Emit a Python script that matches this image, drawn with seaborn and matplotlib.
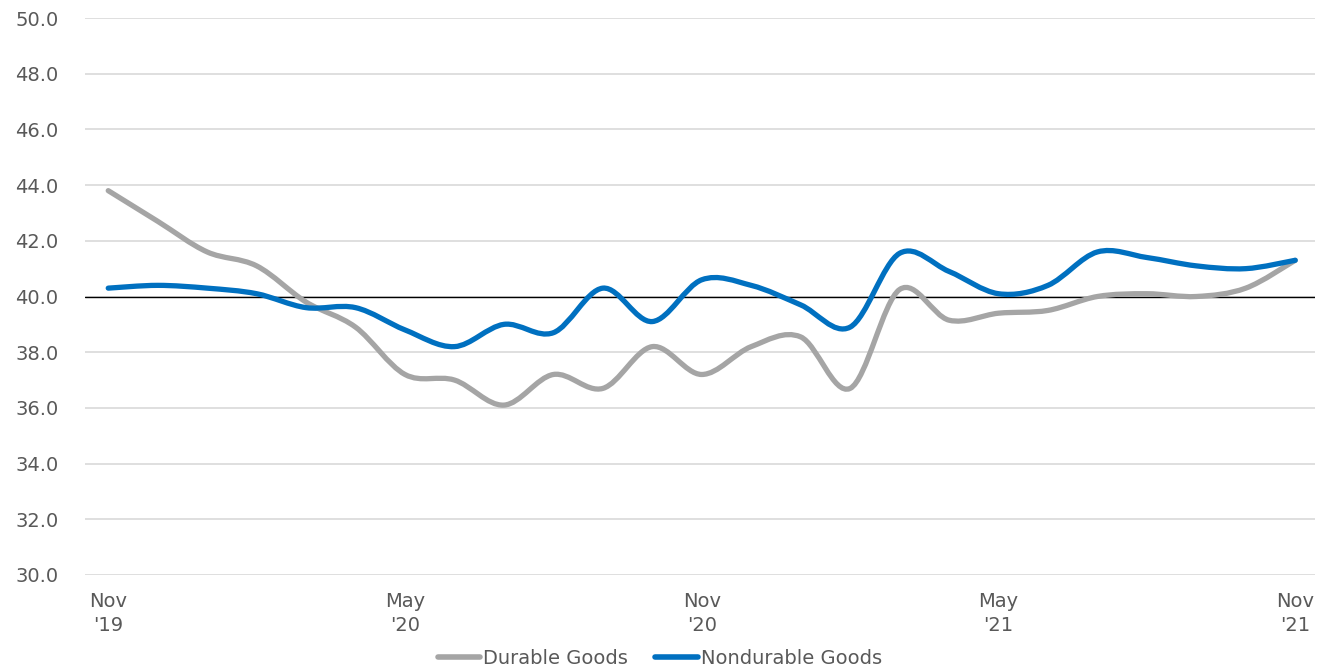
import numpy as np
import pandas as pd
import seaborn as sns
import matplotlib.pyplot as plt
from matplotlib.path import Path
from matplotlib.patches import PathPatch
from matplotlib.lines import Line2D

months = pd.date_range("2019-11-01", "2021-11-01", freq="MS")
durable = [43.8, 42.7, 41.6, 41.1, 39.8, 38.9, 37.2, 37.0, 36.1, 37.2, 36.7, 38.2, 37.2,
           38.2, 38.55, 36.7, 40.25, 39.15, 39.4, 39.5, 40.0, 40.1, 40.0, 40.3, 41.3]
nondurable = [40.3, 40.4, 40.3, 40.1, 39.6, 39.6, 38.8, 38.2, 39.0, 38.7, 40.3, 39.1, 40.6,
              40.4, 39.7, 38.9, 41.55, 40.9, 40.1, 40.4, 41.6, 41.4, 41.1, 41.0, 41.3]
tick_pos = [0, 6, 12, 18, 24]
tick_labels = ["Nov\n'19", "May\n'20", "Nov\n'20", "May\n'21", "Nov\n'21"]
series_names = ["Durable Goods", "Nondurable Goods"]
colors = ["#a5a5a5", "#0070c0"]

df = pd.DataFrame({"idx": np.arange(len(months)), "Durable Goods": durable,
                   "Nondurable Goods": nondurable})
long = df.melt(id_vars="idx", var_name="series", value_name="value")

sns.set_style("white")
plt.rcParams['font.family'] = ['DejaVu Sans']

fig = plt.figure(figsize=(13.2, 6.66), dpi=100)
ax = fig.add_axes([85 / 1320, 1 - 575 / 666, 1230 / 1320, 557 / 666])

sns.lineplot(data=long, x="idx", y="value", hue="series", palette=colors,
             hue_order=series_names, ax=ax, legend=False, linewidth=3.8)


def smooth_path(xs, ys):
    # excel-style smoothed line: cubic bezier through each point
    pts = np.column_stack([xs, ys])
    verts = [pts[0]]
    codes = [Path.MOVETO]
    n = len(pts)
    for i in range(n - 1):
        p0 = pts[max(i - 1, 0)]
        p1 = pts[i]
        p2 = pts[i + 1]
        p3 = pts[min(i + 2, n - 1)]
        c1 = p1 + (p2 - p0) / 6
        c2 = p2 - (p3 - p1) / 6
        verts += [c1, c2, p2]
        codes += [Path.CURVE4] * 3
    return Path(verts, codes)


# replace the straight segments with smoothed curves
for line, col in zip(ax.get_lines(), colors):
    xs, ys = line.get_data()
    line.set_visible(False)
    patch = PathPatch(smooth_path(np.asarray(xs, float), np.asarray(ys, float)),
                      facecolor="none", edgecolor=col, lw=3.8, capstyle="round",
                      joinstyle="round", zorder=3)
    ax.add_patch(patch)

ax.set_ylim(30, 50)
ax.set_xlim(-0.47, 24.4)
ax.set_yticks(np.arange(30, 51, 2))
ax.set_yticklabels([f"{v:.1f}" for v in np.arange(30, 51, 2)])
ax.set_xticks(tick_pos)
ax.set_xticklabels(tick_labels, linespacing=1.35)
ax.yaxis.grid(True, color="#d9d9d9", lw=1.2)
ax.axhline(40, color="black", lw=1, zorder=2)
for s in ax.spines.values():
    s.set_visible(False)
ax.tick_params(axis="both", length=0, labelsize=14, labelcolor="#595959")
ax.tick_params(axis="x", pad=12)
ax.tick_params(axis="y", pad=19)
ax.set_xlabel("")
ax.set_ylabel("")

handles = [Line2D([], [], color=c, lw=4) for c in colors]
fig.legend(handles, series_names, loc="center", bbox_to_anchor=(0.5, 1 - 658 / 666),
           ncol=2, frameon=False, fontsize=14, labelcolor="#595959",
           handlelength=2.2, handletextpad=0.15, columnspacing=1.4)

fig.savefig("out.png", dpi=100)
